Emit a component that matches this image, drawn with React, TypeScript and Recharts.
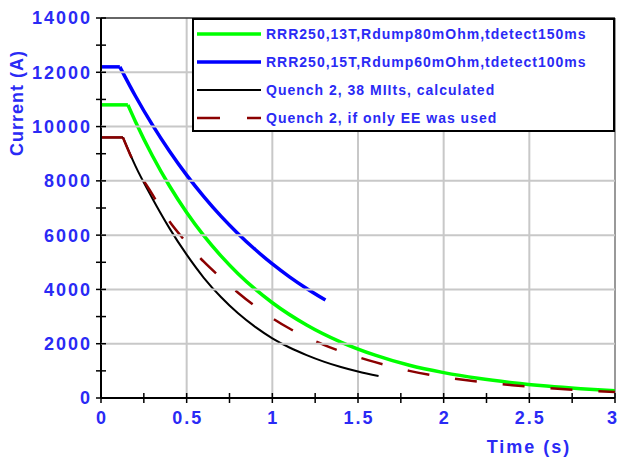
import React from "react"
import {
  LineChart,
  Line,
  XAxis,
  YAxis,
  ReferenceLine,
  Legend
} from "recharts"

// values (time in s, current in A); the first two points are the flat part
const greenTime = [0, 0.157, 0.2, 0.3, 0.4, 0.5, 0.6, 0.7, 0.8, 0.9, 1.0, 1.2, 1.4, 1.6, 1.8, 2.0, 2.2, 2.4, 2.6, 2.8, 3.0]
const greenCurrent = [10800, 10800, 10200, 8925, 7810, 6835, 5980, 5235, 4580, 4010, 3510, 2690, 2060, 1577, 1204, 935, 726, 565, 440, 343, 268]

const blueTime = [0, 0.11, 0.2, 0.3, 0.4, 0.5, 0.6, 0.7, 0.8, 0.9, 1.0, 1.1, 1.2, 1.31]
const blueCurrent = [12200, 12200, 11135, 10060, 9090, 8210, 7420, 6700, 6055, 5470, 4940, 4465, 4035, 3607]

const blackTime = [0, 0.128, 0.2, 0.3, 0.4, 0.5, 0.6, 0.7, 0.8, 0.9, 1.0, 1.1, 1.2, 1.3, 1.4, 1.5, 1.62]
const blackCurrent = [9600, 9600, 8560, 7350, 6250, 5280, 4430, 3720, 3120, 2620, 2200, 1860, 1580, 1340, 1140, 975, 810]

const eeTime = [0, 0.128, 0.2, 0.3, 0.4, 0.5, 0.6, 0.7, 0.8, 0.9, 1.0, 1.1, 1.2, 1.3, 1.4, 1.6, 1.8, 2.0, 2.2, 2.4, 2.6, 2.8, 3.0]
const eeCurrent = [9600, 9600, 8560, 7500, 6500, 5720, 5020, 4430, 3880, 3380, 2940, 2560, 2240, 1960, 1720, 1320, 1000, 770, 600, 470, 370, 290, 220]

const xTicks = [0, 0.25, 0.5, 0.75, 1, 1.25, 1.5, 1.75, 2, 2.25, 2.5, 2.75, 3]
const yTicks = [0, 1000, 2000, 3000, 4000, 5000, 6000, 7000, 8000, 9000, 10000, 11000, 12000, 13000, 14000]
const xGrid = [0.5, 1, 1.5, 2, 2.5]
const yGrid = [2000, 4000, 6000, 8000, 10000, 12000]
const xDomain = [0, 3]
const yDomain = [0, 14000]

const toPoints = (ts: number[], vs: number[]) => ts.map((t, i) => ({ t, current: vs[i] }))

// vertical grid lines drawn as two-point series so they go through the x scale
const gridLines = xGrid.map((v) => toPoints([v, v], yDomain))

const series = [
  { name: "RRR250,13T,Rdump80mOhm,tdetect150ms", data: toPoints(greenTime, greenCurrent), color: "#00ff00", width: 3.5, dash: undefined as string | undefined },
  { name: "RRR250,15T,Rdump60mOhm,tdetect100ms", data: toPoints(blueTime, blueCurrent), color: "#0000ff", width: 3.5, dash: undefined },
  { name: "Quench 2, 38 MIIts, calculated", data: toPoints(blackTime, blackCurrent), color: "#000000", width: 2, dash: undefined },
  { name: "Quench 2, if only EE was used", data: toPoints(eeTime, eeCurrent), color: "#8b0000", width: 2.5, dash: "22 26" }
]

const chartW = 619
const chartH = 458
const yAxisW = 101
const marginRight = 4
const plotW = chartW - yAxisW - marginRight

const font = "'Liberation Sans', Arial, sans-serif"
const blue = "#2a2af5"

const YTick = (props: any) => {
  const { x, y, payload } = props
  const v = payload.value
  return (
    <g>
      {yGrid.includes(v) && (
        <line x1={x} x2={x + plotW} y1={y} y2={y} stroke="#c8c8c8" strokeWidth={2} />
      )}
      <line x1={x - 5} x2={x + 5} y1={y} y2={y} stroke="#000" strokeWidth={1.5} />
      {v % 2000 === 0 && (
        <text x={x - 9} y={y} dy="0.36em" textAnchor="end" fill={blue} fontSize={18}
          fontWeight="bold" fontFamily={font} letterSpacing={2}>
          {v}
        </text>
      )}
    </g>
  )
}

const XTick = (props: any) => {
  const { x, y, payload } = props
  const v = payload.value
  return (
    <g>
      <line x1={x} x2={x} y1={y - 5} y2={y + 5} stroke="#000" strokeWidth={1.5} />
      {(v * 2) % 1 === 0 && (
        <text x={v === 3 ? x - 2 : x + 1} y={y + 20} dy="0.36em" textAnchor="middle" fill={blue} fontSize={18}
          fontWeight="bold" fontFamily={font} letterSpacing={2}>
          {v}
        </text>
      )}
    </g>
  )
}

const LegendBox = () => (
  <div
    style={{
      width: 423,
      height: 114,
      boxSizing: "border-box",
      border: "2px solid #000",
      background: "#fff"
    }}
  >
    {series.map((s) => (
      <div key={s.name} style={{ height: 28, display: "flex", alignItems: "center" }}>
        <svg width={64} height={8} style={{ marginLeft: 3 }}>
          <line x1={0} x2={64} y1={4} y2={4} stroke={s.color} strokeWidth={s.width}
            strokeDasharray={s.dash ? "23 27" : undefined} />
        </svg>
        <span style={{ marginLeft: 5, color: blue, fontFamily: font, fontWeight: "bold",
          fontSize: 14, letterSpacing: 1, whiteSpace: "nowrap" }}>
          {s.name}
        </span>
      </div>
    ))}
  </div>
)

const App: React.FC = () => {
  return (
    <div style={{ position: "absolute", left: 0, top: 0, width: chartW, height: chartH, background: "#fff" }}>
      <LineChart width={chartW} height={chartH} margin={{ top: 18, right: marginRight, left: 0, bottom: 0 }}>
        <XAxis
          dataKey="t"
          type="number"
          domain={xDomain}
          ticks={xTicks}
          height={60}
          tickSize={0}
          tickMargin={0}
          tickLine={false}
          axisLine={{ stroke: "#000", strokeWidth: 2 }}
          tick={<XTick />}
          interval={0}
        />
        <YAxis
          type="number"
          domain={yDomain}
          ticks={yTicks}
          width={yAxisW}
          tickSize={0}
          tickMargin={0}
          tickLine={false}
          axisLine={{ stroke: "#000", strokeWidth: 2 }}
          tick={<YTick />}
          interval={0}
        />
        {gridLines.map((g, i) => (
          <Line
            key={"grid" + i}
            data={g}
            dataKey="current"
            legendType="none"
            type="linear"
            stroke="#c8c8c8"
            strokeWidth={2}
            dot={false}
            activeDot={false}
            isAnimationActive={false}
          />
        ))}
        <ReferenceLine y={14000} stroke="#333" strokeWidth={1.5} />
        <ReferenceLine x={3} stroke="#999" strokeWidth={2} />
        {series.map((s) => (
          <Line
            key={s.name + "-flat"}
            data={s.data.slice(0, 2)}
            dataKey="current"
            name={s.name}
            legendType="none"
            type="linear"
            stroke={s.color}
            strokeWidth={s.width}
            strokeDasharray={s.dash}
            dot={false}
            activeDot={false}
            isAnimationActive={false}
          />
        ))}
        {series.map((s) => (
          <Line
            key={s.name}
            data={s.data.slice(1)}
            dataKey="current"
            name={s.name}
            type="monotone"
            stroke={s.color}
            strokeWidth={s.width}
            strokeDasharray={s.dash}
            dot={false}
            activeDot={false}
            isAnimationActive={false}
          />
        ))}
        <Legend
          layout="vertical"
          align="center"
          verticalAlign="middle"
          content={<LegendBox />}
          wrapperStyle={{ position: "absolute", left: 192, top: 18, width: 423, height: 114 }}
        />
      </LineChart>
      <div
        style={{
          position: "absolute",
          left: 17 - 70,
          top: 100 - 8,
          width: 140,
          textAlign: "center",
          transform: "rotate(-90deg)",
          color: blue,
          fontFamily: font,
          fontWeight: "bold",
          fontSize: 18,
          letterSpacing: 1,
          lineHeight: "22px"
        }}
      >
        Current (A)
      </div>
      <div
        style={{
          position: "absolute",
          left: 529 - 70,
          top: 436,
          width: 140,
          textAlign: "center",
          color: blue,
          fontFamily: font,
          fontWeight: "bold",
          fontSize: 18,
          letterSpacing: 2,
          lineHeight: "22px"
        }}
      >
        Time (s)
      </div>
    </div>
  )
}

export default App
